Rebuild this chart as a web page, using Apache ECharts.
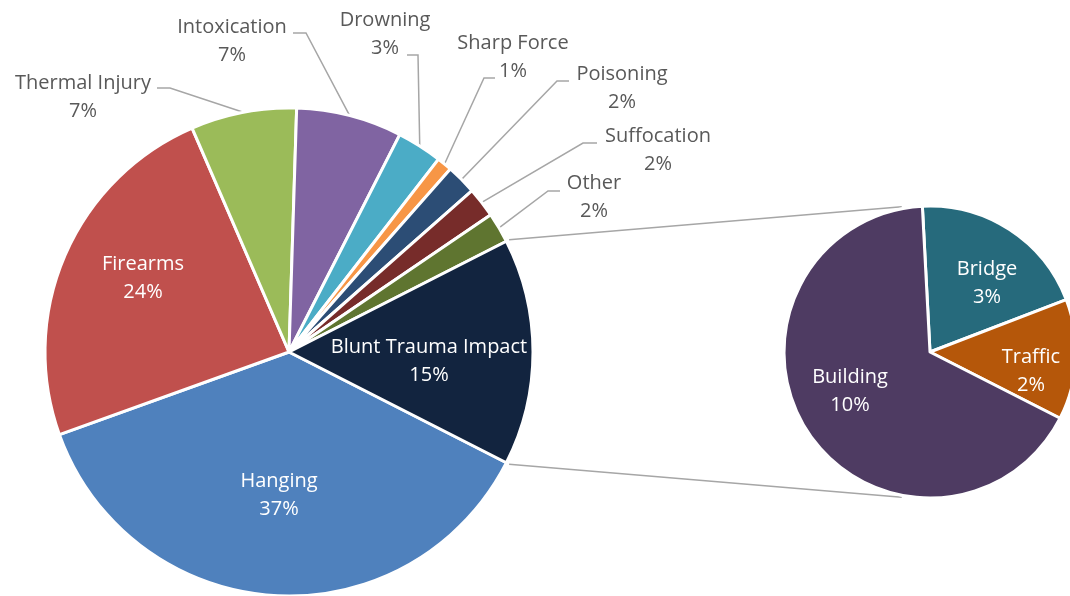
<!DOCTYPE html>
<html>
<head>
<meta charset="utf-8">
<script src="https://cdn.jsdelivr.net/npm/echarts@6/dist/echarts.min.js"></script>
<style>
  html, body { margin: 0; padding: 0; background: #ffffff; }
  #chart { width: 1070px; height: 596px; }
</style>
</head>
<body>
<div id="chart"></div>
<script>
// Cause of death, share of all cases (%)
const causes = ['Hanging', 'Firearms', 'Thermal Injury', 'Intoxication', 'Drowning',
                'Sharp Force', 'Poisoning', 'Suffocation', 'Other', 'Blunt Trauma Impact'];
const causeShares = [37, 24, 7, 7, 3, 1, 2, 2, 2, 15];
const causeColors = ['#4f81bd', '#c0504d', '#9bbb59', '#8064a2', '#4bacc6',
                     '#f79646', '#2c4d75', '#772c2a', '#5f7530', '#12243f'];

// Blunt trauma impact broken down by setting (% of all cases)
const impactKinds = ['Bridge', 'Traffic', 'Building'];
const impactShares = [3, 2, 10];
const impactColors = ['#266a7c', '#b5570a', '#4e3b62'];

// Geometry of the two pies (pixels)
const MAIN = { cx: 289, cy: 352, r: 244 };
const SUB = { cx: 930, cy: 352, r: 146 };
const SUB_START = 93;          // Bridge begins just left of 12 o'clock
const CONNECT_ANGLE = 101;     // where the connector lines meet the small pie

// Label block centres and leader-line hooks [x, y, elbow dx]
const labelSpots = {
  'Hanging': [279, 495], 'Firearms': [143, 278], 'Blunt Trauma Impact': [429, 361],
  'Thermal Injury': [83, 97], 'Intoxication': [232, 41], 'Drowning': [385, 34],
  'Sharp Force': [513, 57], 'Poisoning': [622, 88], 'Suffocation': [658, 150],
  'Other': [594, 197],
  'Bridge': [987, 283], 'Traffic': [1031, 371], 'Building': [850, 391]
};
const leaderHooks = {
  'Thermal Injury': [157, 88, 13], 'Intoxication': [293, 33, 13], 'Drowning': [407, 55, 11],
  'Sharp Force': [495, 78, -11], 'Poisoning': [569, 81, -12], 'Suffocation': [597, 143, -14],
  'Other': [560, 191, -12]
};

const total = causeShares.reduce((a, b) => a + b, 0);
const bluntShare = causeShares[causeShares.length - 1];
const mainStart = -(bluntShare / total * 360) / 2;   // centre the broken-out slice on 3 o'clock

// Mid-angle of every main slice (degrees, counter-clockwise from east)
const mainMid = [];
(function () {
  let a = mainStart;
  causeShares.forEach(function (v) {
    const sweep = v / total * 360;
    mainMid.push(a - sweep / 2);
    a -= sweep;
  });
})();

function polar(pie, radius, deg) {
  const t = deg * Math.PI / 180;
  return [pie.cx + radius * Math.cos(t), pie.cy - radius * Math.sin(t)];
}

const FONT = '"Open Sans", Lato, sans-serif';
const insideNames = ['Hanging', 'Firearms', 'Blunt Trauma Impact'];

const mainData = causes.map(function (name, i) {
  const inside = insideNames.indexOf(name) >= 0;
  return {
    name: name,
    value: causeShares[i],
    itemStyle: { color: causeColors[i] },
    label: inside
      ? { position: 'inside', color: '#ffffff' }
      : { position: 'outside', color: '#595959' },
    labelLine: { show: !inside }
  };
});

const subData = impactKinds.map(function (name, i) {
  return {
    name: name,
    value: impactShares[i],
    itemStyle: { color: impactColors[i] },
    label: { position: 'inside', color: '#ffffff' }
  };
});

function placeLabel(names, pie, mids) {
  return function (p) {
    const name = names[p.dataIndex];
    const spot = labelSpots[name];
    const out = { x: spot[0], y: spot[1], align: 'center', verticalAlign: 'middle' };
    const hook = leaderHooks[name];
    if (hook && mids) {
      const edge = polar(pie, pie.r, mids[p.dataIndex]);
      out.labelLinePoints = [edge, [hook[0] + hook[2], hook[1]], [hook[0], hook[1]]];
    }
    return out;
  };
}

const blHalf = bluntShare / total * 180;
const topA = polar(MAIN, MAIN.r + 3, blHalf);
const topB = polar(SUB, SUB.r + 2, CONNECT_ANGLE);
const botA = polar(MAIN, MAIN.r + 3, -blHalf);
const botB = polar(SUB, SUB.r + 2, -CONNECT_ANGLE);

const labelText = {
  formatter: '{b}\n{c}%',
  fontFamily: FONT,
  fontSize: 20,
  lineHeight: 28,
  align: 'center'
};

const chart = echarts.init(document.getElementById('chart'), null, { renderer: 'canvas' });
chart.setOption({
  animation: false,
  backgroundColor: '#ffffff',
  graphic: [
    { type: 'line', shape: { x1: topA[0], y1: topA[1], x2: topB[0], y2: topB[1] },
      style: { stroke: '#a6a6a6', lineWidth: 1.5 }, z: 0 },
    { type: 'line', shape: { x1: botA[0], y1: botA[1], x2: botB[0], y2: botB[1] },
      style: { stroke: '#a6a6a6', lineWidth: 1.5 }, z: 0 }
  ],
  series: [
    {
      type: 'pie',
      center: [MAIN.cx, MAIN.cy],
      radius: MAIN.r,
      startAngle: mainStart,
      clockwise: true,
      avoidLabelOverlap: false,
      silent: true,
      itemStyle: { borderColor: '#ffffff', borderWidth: 3 },
      label: labelText,
      labelLine: { lineStyle: { color: '#a6a6a6', width: 1.5 } },
      labelLayout: placeLabel(causes, MAIN, mainMid),
      emphasis: { disabled: true },
      data: mainData
    },
    {
      type: 'pie',
      center: [SUB.cx, SUB.cy],
      radius: SUB.r,
      startAngle: SUB_START,
      clockwise: true,
      avoidLabelOverlap: false,
      silent: true,
      itemStyle: { borderColor: '#ffffff', borderWidth: 3 },
      label: labelText,
      labelLayout: placeLabel(impactKinds, SUB, null),
      emphasis: { disabled: true },
      data: subData
    }
  ]
});
</script>
</body>
</html>
